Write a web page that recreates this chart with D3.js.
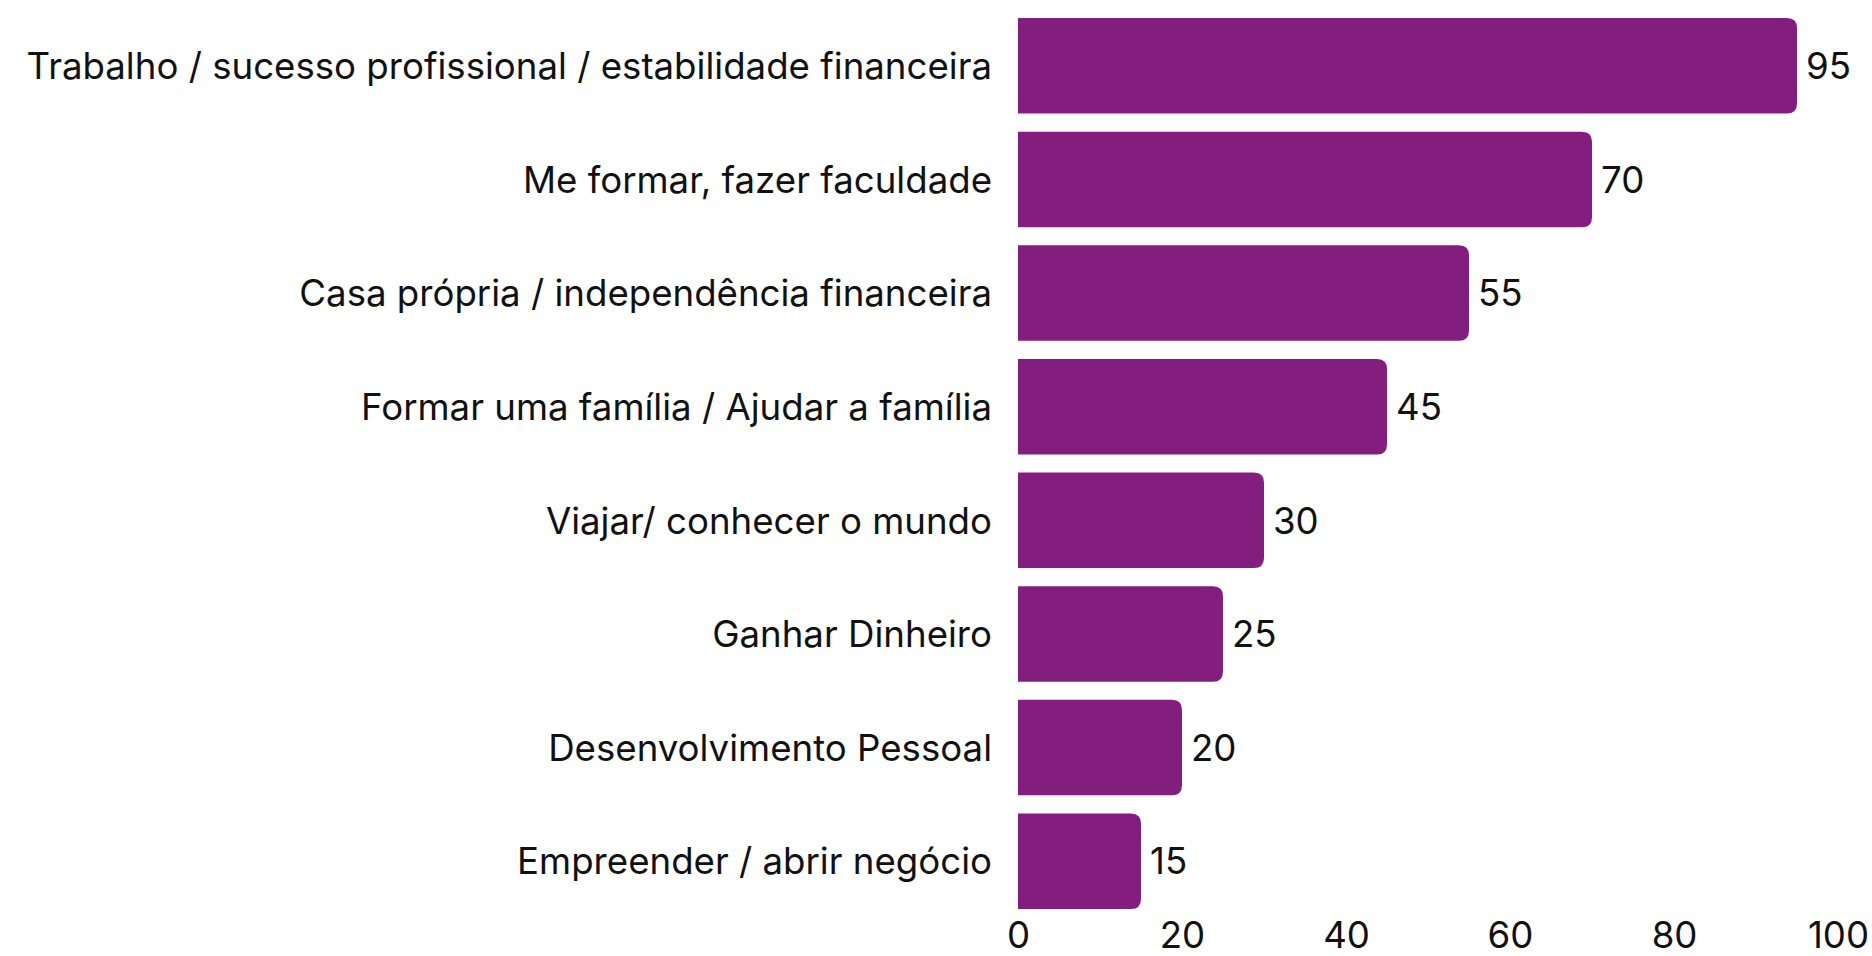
<!DOCTYPE html>
<html>
<head>
<meta charset="utf-8">
<script src="https://cdn.jsdelivr.net/npm/d3@7"></script>
<style>
  body { margin: 0; background: #fff; }
  text { font-family: Inter, "Noto Sans", sans-serif; fill: #111; }
</style>
</head>
<body>
<div id="chart"></div>
<script>
var categories = [
  'Trabalho / sucesso profissional / estabilidade financeira',
  'Me formar, fazer faculdade',
  'Casa própria / independência financeira',
  'Formar uma família / Ajudar a família',
  'Viajar/ conhecer o mundo',
  'Ganhar Dinheiro',
  'Desenvolvimento Pessoal',
  'Empreender / abrir negócio'
];
var values = [95, 70, 55, 45, 30, 25, 20, 15];
var ticks = [0, 20, 40, 60, 80, 100];

var w = 1872;
var h = 956;
var color = '#841e7e';
var r = 10;

var svg = d3.select('#chart').append('svg').attr('width', w).attr('height', h);

var x = d3.scaleLinear().domain([0, 100]).range([1018, 1838]);
var y = d3.scaleBand().domain(categories).range([9, 918]).paddingInner(0.16).paddingOuter(0.08);

function barPath(v, cat) {
  var x0 = x(0), x1 = x(v), y0 = y(cat), y1 = y0 + y.bandwidth();
  return 'M' + x0 + ',' + y0 +
    'H' + (x1 - r) + 'Q' + x1 + ',' + y0 + ' ' + x1 + ',' + (y0 + r) +
    'V' + (y1 - r) + 'Q' + x1 + ',' + y1 + ' ' + (x1 - r) + ',' + y1 +
    'H' + x0 + 'Z';
}

svg.selectAll('path.bar')
  .data(values)
  .enter()
  .append('path')
  .attr('class', 'bar')
  .attr('fill', color)
  .attr('d', function (d, i) { return barPath(d, categories[i]); });

// category labels, sized so the longest one spans the reference width
var labels = svg.selectAll('text.cat')
  .data(categories)
  .enter()
  .append('text')
  .attr('class', 'cat')
  .attr('x', 992)
  .attr('y', function (d) { return y(d) + y.bandwidth() / 2; })
  .attr('dy', '0.36em')
  .attr('text-anchor', 'end')
  .attr('font-size', 32)
  .text(function (d) { return d; });

var longest = labels.node().getComputedTextLength();
var fs = 32 * 966 / longest;
labels.attr('font-size', fs);

svg.selectAll('text.val')
  .data(values)
  .enter()
  .append('text')
  .attr('class', 'val')
  .attr('x', function (d) { return x(d) + 9; })
  .attr('y', function (d, i) { return y(categories[i]) + y.bandwidth() / 2; })
  .attr('dy', '0.36em')
  .attr('font-size', fs)
  .text(function (d) { return d; });

var axis = svg.append('g')
  .attr('transform', 'translate(0,' + 948 + ')')
  .call(d3.axisBottom(x).tickValues(ticks).tickSize(0).tickPadding(0));
axis.select('.domain').remove();
axis.selectAll('text')
  .attr('font-family', 'Inter, "Noto Sans", sans-serif')
  .attr('font-size', fs)
  .attr('fill', '#111')
  .attr('dy', 0);
</script>
</body>
</html>
